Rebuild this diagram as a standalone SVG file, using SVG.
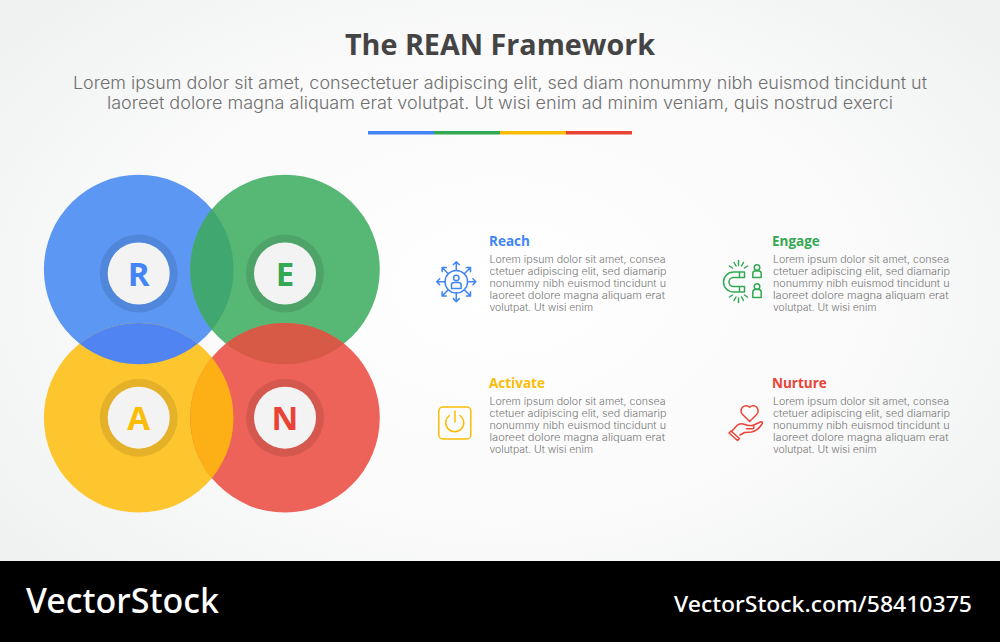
<svg xmlns="http://www.w3.org/2000/svg" width="1000" height="642" viewBox="0 0 1000 642">
<style>
.title{font:700 29px "Open Sans",sans-serif;fill:#444}
.sub{font:300 16.6px Inter,sans-serif;fill:#707070}
.head{font:700 13.5px "Open Sans",sans-serif}
.body{font:300 9.9px Inter,sans-serif;fill:#777}
.letter{font:700 33px "Open Sans",sans-serif;text-anchor:middle}
.foot{fill:#fff;font-family:"Noto Sans",sans-serif}
.ic{fill:none;stroke-width:1.5;stroke-linecap:round;stroke-linejoin:round}
.ring{fill:#000;fill-opacity:.1}
.core{fill:#f3f3f4}
</style>
<defs>
<radialGradient id="bg" cx="50%" cy="45%" r="62%"><stop offset="0" stop-color="#fff"/><stop offset=".6" stop-color="#fafafa"/><stop offset="1" stop-color="#f0f2f2"/></radialGradient>
<clipPath id="cR"><circle cx="138.7" cy="269.5" r="94.8"/></clipPath>
<clipPath id="cN"><circle cx="285" cy="417.8" r="94.8"/></clipPath>
</defs>
<rect width="1000" height="642" fill="url(#bg)"/>
<text class="title" x="500" y="55" text-anchor="middle" textLength="310" lengthAdjust="spacingAndGlyphs">The REAN Framework</text>
<text class="sub" x="73" y="89" textLength="854" lengthAdjust="spacingAndGlyphs">Lorem ipsum dolor sit amet, consectetuer adipiscing elit, sed diam nonummy nibh euismod tincidunt ut</text>
<text class="sub" x="107" y="109" textLength="786" lengthAdjust="spacingAndGlyphs">laoreet dolore magna aliquam erat volutpat. Ut wisi enim ad minim veniam, quis nostrud exerci</text>
<g id="divider">
<rect x="368" y="131" width="66" height="3.5" fill="#4285f4"/>
<rect x="434" y="131" width="66" height="3.5" fill="#34a853"/>
<rect x="500" y="131" width="66" height="3.5" fill="#fbbc05"/>
<rect x="566" y="131" width="66" height="3.5" fill="#ea4335"/>
</g>
<g id="venn-discs">
<circle cx="138.7" cy="269.5" r="94.8" fill="#5b97f3"/>
<circle cx="285" cy="269.5" r="94.8" fill="#57b774"/>
<circle cx="138.7" cy="417.8" r="94.8" fill="#fec62e"/>
<circle cx="285" cy="417.8" r="94.8" fill="#ee6359"/>
<g clip-path="url(#cR)"><circle cx="285" cy="269.5" r="94.8" fill="#3fa76f"/><circle cx="138.7" cy="417.8" r="94.8" fill="#4f84f2"/></g>
<g clip-path="url(#cN)"><circle cx="285" cy="269.5" r="94.8" fill="#d65a45"/><circle cx="138.7" cy="417.8" r="94.8" fill="#fdb015"/></g>
</g>
<g id="node-R"><circle class="ring" cx="138.7" cy="273.5" r="39"/><circle class="core" cx="138.7" cy="273.5" r="31"/><text class="letter" x="138.7" y="286" fill="#4285f4">R</text></g>
<g id="node-E"><circle class="ring" cx="285" cy="273.5" r="39"/><circle class="core" cx="285" cy="273.5" r="31"/><text class="letter" x="285" y="286" fill="#34a853">E</text></g>
<g id="node-A"><circle class="ring" cx="138.7" cy="417.7" r="39"/><circle class="core" cx="138.7" cy="417.7" r="31"/><text class="letter" x="138.7" y="430" fill="#fbbc05">A</text></g>
<g id="node-N"><circle class="ring" cx="285" cy="417.7" r="39"/><circle class="core" cx="285" cy="417.7" r="31"/><text class="letter" x="285" y="430" fill="#ea4335">N</text></g>

<g id="reach">
<g class="ic" stroke="#4285f4">
<circle cx="456.3" cy="281.7" r="11.3"/>
<circle cx="456.3" cy="278" r="2.7"/>
<path d="M451.5 288.5v-3.5a2.5 2.5 0 0 1 2.5-2.5h4.6a2.5 2.5 0 0 1 2.5 2.5v3.500z"/>
<path d="M456.3 270.4v-8.6m-3 3 3-3 3 3M456.3 293v8.6m-3-3 3 3 3-3M445 281.7h-8.3m3-3-3 3 3 3M467.6 281.7h8.3m-3-3 3 3-3 3M448.3 273.7l-6.2-6.2m0 4.2v-4.2h4.2M464.3 273.7l6.2-6.2m-4.2 0h4.2v4.2M448.3 289.7l-6.2 6.2m0-4.2v4.2h4.2M464.3 289.7l6.2 6.2m-4.2 0h4.2v-4.2"/>
</g>
<text class="head" x="489" y="246" fill="#4285f4">Reach</text>
<g class="body">
<text x="489.5" y="262.5" textLength="176" lengthAdjust="spacingAndGlyphs">Lorem ipsum dolor sit amet, consea</text>
<text x="489.5" y="274.5" textLength="177" lengthAdjust="spacingAndGlyphs">ctetuer adipiscing elit, sed diamarip</text>
<text x="489.5" y="286.5" textLength="176.5" lengthAdjust="spacingAndGlyphs">nonummy nibh euismod tincidunt u</text>
<text x="489.5" y="298.5" textLength="175.5" lengthAdjust="spacingAndGlyphs">laoreet dolore magna aliquam erat</text>
<text x="489.5" y="310.5" textLength="103.5" lengthAdjust="spacingAndGlyphs">volutpat. Ut wisi enim</text>
</g>
</g>

<g id="engage">
<g class="ic" stroke="#34a853">
<path d="M744.5 272h-11a10 10 0 0 0 0 20h11v-5.5h-11a4.500 4.500 0 0 1 0-9h11zM739.500 272v5.500M739.500 286.500v5.500"/>
<path d="M734 262.500l2 3.500M738.500 260.500v5M743.500 262.500l-2 3.500M747.500 266l-3 2M729.500 266l3 2M734 300.500l2-3.500M738.500 302.500v-4.500M743.500 300.500l-2-3.500M747.500 297l-3-2M729.500 297l3-2"/>
<circle cx="757" cy="267.500" r="2.800"/>
<path d="M752.800 277.500v-4a2.500 2.500 0 0 1 2.500-2.500h3.400a2.500 2.500 0 0 1 2.500 2.500v4z"/>
<circle cx="757" cy="286.500" r="2.800"/>
<path d="M752.800 297.500v-5.500a2.500 2.500 0 0 1 2.500-2.500h3.400a2.500 2.500 0 0 1 2.500 2.500v5.500z"/>
</g>
<text class="head" x="772" y="246" fill="#34a853">Engage</text>
<g class="body">
<text x="773" y="262.5" textLength="176" lengthAdjust="spacingAndGlyphs">Lorem ipsum dolor sit amet, consea</text>
<text x="773" y="274.5" textLength="177" lengthAdjust="spacingAndGlyphs">ctetuer adipiscing elit, sed diamarip</text>
<text x="773" y="286.5" textLength="176.5" lengthAdjust="spacingAndGlyphs">nonummy nibh euismod tincidunt u</text>
<text x="773" y="298.5" textLength="175.5" lengthAdjust="spacingAndGlyphs">laoreet dolore magna aliquam erat</text>
<text x="773" y="310.5" textLength="103.5" lengthAdjust="spacingAndGlyphs">volutpat. Ut wisi enim</text>
</g>
</g>

<g id="activate">
<g class="ic" stroke="#fbbc05">
<rect x="438.800" y="407" width="32" height="32" rx="4"/>
<path d="M449.500 415.500a9 9 0 1 0 10.500 0M455 411v11"/>
</g>
<text class="head" x="489" y="388" fill="#fbbc05">Activate</text>
<g class="body">
<text x="489.5" y="404.5" textLength="176" lengthAdjust="spacingAndGlyphs">Lorem ipsum dolor sit amet, consea</text>
<text x="489.5" y="416.5" textLength="177" lengthAdjust="spacingAndGlyphs">ctetuer adipiscing elit, sed diamarip</text>
<text x="489.5" y="428.5" textLength="176.5" lengthAdjust="spacingAndGlyphs">nonummy nibh euismod tincidunt u</text>
<text x="489.5" y="440.5" textLength="175.5" lengthAdjust="spacingAndGlyphs">laoreet dolore magna aliquam erat</text>
<text x="489.5" y="452.5" textLength="103.5" lengthAdjust="spacingAndGlyphs">volutpat. Ut wisi enim</text>
</g>
</g>

<g id="nurture">
<g class="ic" stroke="#ea4335">
<path d="M749.300 420.500l-7-7a5 5 0 0 1 7-7.300a5 5 0 0 1 7 7.300z" transform="translate(.3 1)"/>
<path d="M731.500 431.500l5.500-6c2-1.800 4-2 6-1.500l5 1.500h4.500c2 0 2 3 0 3.300h-6M752.500 425.500l8-3.500c1.800-.8 2.500 .5 1.500 2-2.500 4-6 7-10.500 8l-7 .5-4.500 2.500"/>
<path d="M731 431l8.500 7.500-2 2-8.500-7.500z"/>
</g>
<text class="head" x="772" y="388" fill="#ea4335">Nurture</text>
<g class="body">
<text x="773" y="404.5" textLength="176" lengthAdjust="spacingAndGlyphs">Lorem ipsum dolor sit amet, consea</text>
<text x="773" y="416.5" textLength="177" lengthAdjust="spacingAndGlyphs">ctetuer adipiscing elit, sed diamarip</text>
<text x="773" y="428.5" textLength="176.5" lengthAdjust="spacingAndGlyphs">nonummy nibh euismod tincidunt u</text>
<text x="773" y="440.5" textLength="175.5" lengthAdjust="spacingAndGlyphs">laoreet dolore magna aliquam erat</text>
<text x="773" y="452.5" textLength="103.5" lengthAdjust="spacingAndGlyphs">volutpat. Ut wisi enim</text>
</g>
</g>

<g id="footer">
<rect y="561" width="1000" height="81" fill="#000"/>
<text class="foot" x="26" y="613" font-size="34" font-weight="500" textLength="193" lengthAdjust="spacingAndGlyphs">VectorStock</text>
<text class="foot" x="674" y="612" font-size="22.500" font-weight="500" textLength="298" lengthAdjust="spacingAndGlyphs">VectorStock.com/58410375</text>
</g>
</svg>
